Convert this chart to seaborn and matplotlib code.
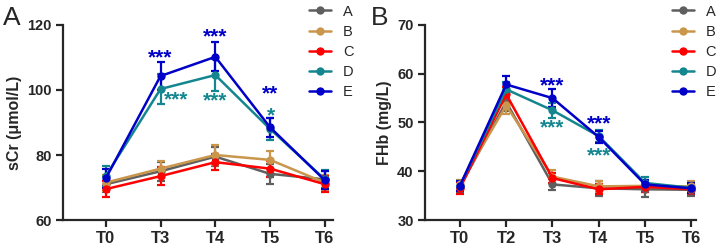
import pandas as pd
import seaborn as sns
import matplotlib.pyplot as plt
import numpy as np

groups = ["A", "B", "C", "D", "E"]
colors = ["#5f5f5f", "#c9964c", "#ff0000", "#14868f", "#0000c8"]

# panel A: sCr
times_a = ["T0", "T3", "T4", "T5", "T6"]
scr_mean = {
    "A": [71.0, 75.0, 79.5, 74.2, 72.5],
    "B": [71.5, 75.8, 80.0, 78.5, 71.5],
    "C": [69.5, 73.5, 77.8, 75.8, 71.0],
    "D": [73.5, 100.3, 104.6, 88.0, 72.5],
    "E": [72.8, 104.3, 110.2, 88.5, 72.2],
}
scr_err = {
    "A": [2.5, 3.0, 3.0, 3.0, 2.5],
    "B": [2.5, 2.5, 3.0, 2.8, 2.5],
    "C": [2.5, 2.8, 2.5, 2.5, 2.5],
    "D": [3.0, 4.6, 4.8, 3.3, 2.8],
    "E": [3.0, 4.2, 4.5, 3.0, 2.8],
}

# panel B: FHb
times_b = ["T0", "T2", "T3", "T4", "T5", "T6"]
fhb_mean = {
    "A": [36.8, 54.2, 37.3, 36.5, 36.3, 36.2],
    "B": [37.3, 53.5, 38.9, 36.9, 37.0, 36.9],
    "C": [36.5, 55.8, 38.6, 36.3, 36.8, 36.3],
    "D": [37.0, 56.8, 52.5, 47.2, 37.6, 36.6],
    "E": [37.0, 57.8, 55.0, 47.0, 37.3, 36.5],
}
fhb_err = {
    "A": [1.0, 1.8, 1.2, 1.5, 1.5, 1.3],
    "B": [1.0, 1.8, 1.3, 1.2, 1.2, 1.2],
    "C": [1.2, 1.5, 1.0, 1.0, 1.0, 1.0],
    "D": [1.0, 1.5, 1.5, 1.3, 1.2, 1.0],
    "E": [1.0, 1.7, 1.8, 1.3, 1.0, 1.0],
}

# significance marks: (x index, y, text, group)
stars_a = [(1, 110.0, "***", "E"), (1.28, 97.0, "***", "D"),
           (2, 116.2, "***", "E"), (2, 96.5, "***", "D"),
           (3, 98.8, "**", "E"), (3.02, 92.0, "*", "D")]
stars_b = [(2, 57.6, "***", "E"), (2, 48.8, "***", "D"),
           (3, 49.7, "***", "E"), (3, 43.2, "***", "D")]

sns.set_style("ticks")
plt.rcParams["font.family"] = ["Liberation Sans", "DejaVu Sans"]

fig = plt.figure(figsize=(7.26, 2.47), dpi=100)
ax_a = fig.add_axes([0.0868, 0.1093, 0.372, 0.7895])
ax_b = fig.add_axes([0.585, 0.1093, 0.3737, 0.7895])
pal = dict(zip(groups, colors))


def draw(ax, times, means, errs, stars, ylim, yticks, ylabel, xlim, letter, lx):
    x = np.arange(len(times))
    rows = []
    for g in groups:
        for i, t in enumerate(times):
            rows.append({"x": x[i], "val": means[g][i], "group": g})
    df = pd.DataFrame(rows)
    for g in groups:
        ax.errorbar(x, means[g], yerr=errs[g], fmt="none", ecolor=pal[g],
                    elinewidth=1.6, capsize=3, capthick=1.6, zorder=2)
    sns.lineplot(data=df, x="x", y="val", hue="group", palette=pal,
                 marker="o", markersize=6, markeredgewidth=0, linewidth=1.8,
                 ax=ax, zorder=3)
    for sx, sy, s, g in stars:
        ax.text(sx, sy, s, color=pal[g], ha="center", va="center",
                fontsize=15, fontweight="bold")
    ax.set_xlim(*xlim)
    ax.set_ylim(*ylim)
    ax.set_yticks(yticks)
    ax.set_xticks(x)
    ax.set_xticklabels(times)
    ax.set_xlabel("")
    ax.set_ylabel(ylabel, fontsize=11.5, fontweight="bold", labelpad=4)
    for lab in ax.get_yticklabels():
        lab.set_fontweight("bold")
        lab.set_fontsize(10.5)
    for lab in ax.get_xticklabels():
        lab.set_fontweight("bold")
        lab.set_fontsize(12)
    ax.tick_params(width=1.6, length=5, pad=3)
    sns.despine(ax=ax)
    ax.spines["left"].set_linewidth(1.6)
    ax.spines["bottom"].set_linewidth(1.6)
    ax.legend(loc="upper left", bbox_to_anchor=(0.89, 1.135), frameon=False,
              fontsize=10.5, handlelength=1.5, labelspacing=0.42,
              handletextpad=0.8, borderaxespad=0)
    ax.text(lx, 1.035, letter, transform=ax.transAxes, fontsize=19,
            ha="left", va="center")


draw(ax_a, times_a, scr_mean, scr_err, stars_a, (60, 120), [60, 80, 100, 120],
     "sCr (μmol/L)", (-0.78, 4.15), "A", -0.222)
draw(ax_b, times_b, fhb_mean, fhb_err, stars_b, (30, 70), [30, 40, 50, 60, 70],
     "FHb (mg/L)", (-0.76, 5.1), "B", -0.2)

fig.savefig("out.png", dpi=100)
